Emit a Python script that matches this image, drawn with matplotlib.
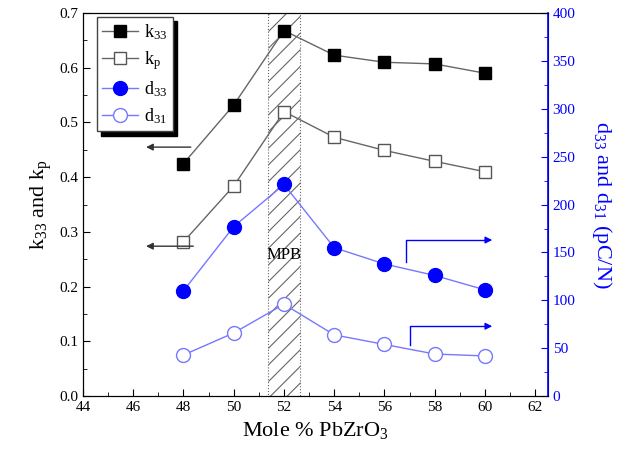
import numpy as np
import matplotlib.pyplot as plt

plt.rcParams['font.family'] = ['Liberation Serif', 'DejaVu Serif']
plt.rcParams['mathtext.fontset'] = 'custom'
plt.rcParams['mathtext.rm'] = 'Liberation Serif'
plt.rcParams['mathtext.it'] = 'Liberation Serif'
plt.rcParams['hatch.linewidth'] = 0.8

# Data
zr = [48, 50, 52, 54, 56, 58, 60]
k33 = [0.425, 0.532, 0.668, 0.623, 0.610, 0.607, 0.590]
kp = [0.282, 0.384, 0.520, 0.473, 0.449, 0.429, 0.410]
d33 = [110, 177, 221, 155, 138, 126, 111]
d31 = [43, 66, 96, 64, 54, 44, 42]

blue = '#0000ff'
lblue = '#7777ff'

fig = plt.figure(figsize=(6.26, 4.58), dpi=100)
ax = fig.add_axes([0.1326, 0.135, 0.7424, 0.8366])
ax2 = ax.twinx()

# MPB band
ax.axvspan(51.35, 52.65, facecolor='white', edgecolor='#666666', hatch='//',
           linewidth=0.8, linestyle=':', zorder=0)
ax.text(52.0, 0.258, 'MPB', ha='center', va='center', fontsize=12)

l1, = ax.plot(zr, k33, '-s', color='#666666', mfc='black', mec='black', ms=9, lw=1, label='k$_{33}$')
l2, = ax.plot(zr, kp, '-s', color='#666666', mfc='white', mec='#555555', ms=9, lw=1, label='k$_\\mathregular{p}$')
l3, = ax2.plot(zr, d33, '-o', color=lblue, mfc=blue, mec=blue, ms=10, lw=1, label='d$_{33}$')
l4, = ax2.plot(zr, d31, '-o', color=lblue, mfc='white', mec=lblue, ms=10, lw=1, label='d$_{31}$')

# Arrows
ax.annotate('', xy=(46.4, 0.455), xytext=(48.4, 0.455),
            arrowprops=dict(arrowstyle='-|>', color='#333333', lw=1, mutation_scale=10))
ax.annotate('', xy=(46.4, 0.274), xytext=(48.5, 0.274),
            arrowprops=dict(arrowstyle='-|>', color='#333333', lw=1, mutation_scale=10))
ax2.plot([56.85, 56.85, 60.0], [140, 163, 163], color=blue, lw=1)
ax2.annotate('', xy=(60.4, 163), xytext=(59.9, 163),
             arrowprops=dict(arrowstyle='-|>', color=blue, lw=1, mutation_scale=10))
ax2.plot([57.0, 57.0, 60.0], [53, 73, 73], color=blue, lw=1)
ax2.annotate('', xy=(60.4, 73), xytext=(59.9, 73),
             arrowprops=dict(arrowstyle='-|>', color=blue, lw=1, mutation_scale=10))

ax.set_xlim(44, 62.5)
ax.set_ylim(0, 0.7)
ax2.set_ylim(0, 400)
ax.set_xticks(np.arange(44, 63, 2))
ax.set_xticks(np.arange(44, 63, 1), minor=True)
ax.set_yticks(np.arange(0, 0.71, 0.1))
ax.set_yticks(np.arange(0, 0.71, 0.05), minor=True)
ax2.set_yticks(np.arange(0, 401, 50))
ax2.set_yticks(np.arange(0, 401, 25), minor=True)
ax.yaxis.set_major_formatter(plt.FormatStrFormatter('%.1f'))

ax.tick_params(which='both', direction='in', labelsize=11, top=False, right=False)
ax.tick_params(which='major', length=5)
ax.tick_params(which='minor', length=3)
ax2.tick_params(which='both', direction='in', colors=blue, labelsize=11)
ax2.tick_params(which='major', length=5)
ax2.tick_params(which='minor', length=3)
ax2.spines['right'].set_color(blue)
ax2.spines['right'].set_linewidth(1.2)

ax.set_xlabel('Mole % PbZrO$_3$', fontsize=16)
ax.set_ylabel('k$_{33}$ and k$_\\mathregular{p}$', fontsize=16)
ax2.set_ylabel('d$_{33}$ and d$_{31}$ (pC/N)', fontsize=16, color=blue,
               rotation=270, labelpad=28)

leg = ax.legend(handles=[l1, l2, l3, l4], loc='upper left', fontsize=13,
                frameon=True, fancybox=False,
                shadow={'color': 'black', 'alpha': 1, 'ox': 3, 'oy': -3},
                borderpad=0.3, labelspacing=0.4, handlelength=2.0, handletextpad=0.3,
                borderaxespad=0.0, bbox_to_anchor=(0.03, 0.99))
leg.get_frame().set_edgecolor('#444444')

fig.savefig('out.png', dpi=100)
